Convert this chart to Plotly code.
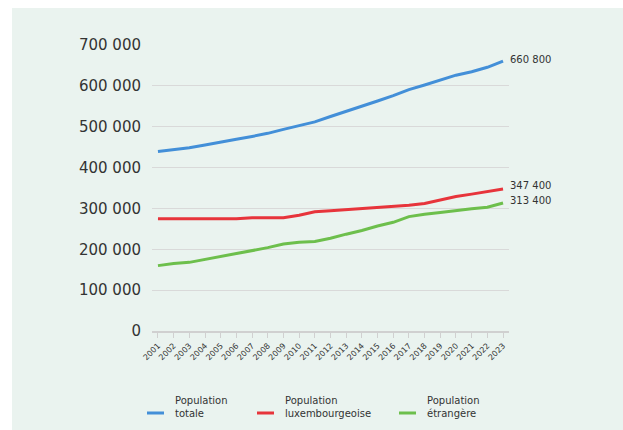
import plotly.graph_objects as go

# Population au 1er janvier, Luxembourg
years = list(range(2001, 2024))
pop_totale = [439500, 444000, 448300, 455000, 461200, 469100, 476200, 483800,
              493500, 502100, 511800, 524900, 537000, 549700, 563000, 576200,
              590700, 602000, 613900, 626100, 634700, 645400, 660800]
pop_lux = [274500, 274500, 274500, 274500, 274500, 274500, 277000, 277000,
           277000, 283500, 292000, 294500, 297000, 300000, 302500, 305000,
           308000, 312000, 321000, 329000, 335000, 341000, 347400]
pop_etr = [160000, 165000, 168000, 175000, 182000, 190000, 196000, 204000,
           213000, 217000, 219000, 227000, 237000, 246000, 257000, 266000,
           280000, 286000, 290000, 295000, 299000, 303000, 313400]

series_names = ["Population<br>totale", "Population<br>luxembourgeoise", "Population<br>étrangère"]
series_values = [pop_totale, pop_lux, pop_etr]
series_colors = ["#438fd8", "#e7343b", "#6dbf4c"]
end_label_shift = [2, 4, 2]

FONT = "DejaVu Sans"
TEXT = "#333333"
PANEL = "#eaf3ef"

fig = go.Figure()
for name, vals, col in zip(series_names, series_values, series_colors):
    fig.add_trace(go.Scatter(x=years, y=vals, mode="lines", name=name,
                             line=dict(color=col, width=3), showlegend=False))

# plot-area geometry in pixels
W, H = 623, 430
L, R, T, B = 152, 509, 45, 331
pw, ph = R - L, B - T

def px_x(x):
    return (x - L) / pw

def px_y(y):
    return (B - y) / ph

# background panel
fig.add_shape(type="rect", xref="paper", yref="paper",
              x0=px_x(12), x1=px_x(623), y0=px_y(431), y1=px_y(8),
              fillcolor=PANEL, line_width=0, layer="below")

# end-of-line value labels
for vals, shift in zip(series_values, end_label_shift):
    fig.add_annotation(x=years[-1], y=vals[-1], xref="x", yref="y",
                       text=f"{vals[-1]:,}".replace(",", " "),
                       showarrow=False, xanchor="left", yanchor="middle",
                       xshift=5, yshift=shift,
                       font=dict(family=FONT, size=10, color=TEXT))

# legend drawn below the axis
legend_line_x = [147, 257, 399]
for name, col, lx in zip(series_names, series_colors, legend_line_x):
    fig.add_shape(type="line", xref="paper", yref="paper",
                  x0=px_x(lx), x1=px_x(lx + 17), y0=px_y(413), y1=px_y(413),
                  line=dict(color=col, width=3))
    fig.add_annotation(xref="paper", yref="paper", x=px_x(lx + 26), y=px_y(407),
                       text=name, showarrow=False, xanchor="left", yanchor="middle",
                       align="left", font=dict(family=FONT, size=10, color=TEXT))

fig.update_layout(
    width=W, height=H,
    margin=dict(l=L, r=W - R, t=T, b=H - B, pad=0),
    paper_bgcolor="white", plot_bgcolor="rgba(0,0,0,0)",
    separators=", ",
    font=dict(family=FONT, color=TEXT),
    xaxis=dict(range=[2000.62, 2023.38], tickvals=years, ticktext=[str(y) for y in years],
               tickangle=-45, tickfont=dict(size=8, color=TEXT),
               showgrid=False, zeroline=False,
               showline=True, linecolor="#d0d0d0", linewidth=2,
               ticks="outside", ticklen=5, tickcolor="#d0d0d0", tickwidth=1),
    yaxis=dict(range=[0, 700000], dtick=100000, tickformat=",d",
               tickfont=dict(size=15, color=TEXT), ticklabelstandoff=10,
               showgrid=True, gridcolor="#d9d9d9", gridwidth=1,
               zeroline=False, showline=False),
)

fig.write_html("out.html")
